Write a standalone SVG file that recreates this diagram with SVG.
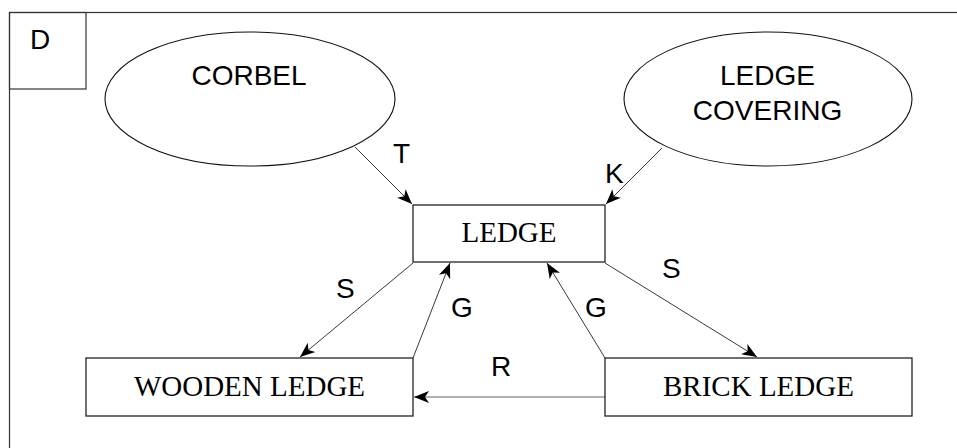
<svg xmlns="http://www.w3.org/2000/svg" width="957" height="448" viewBox="0 0 957 448">
  <style>
    .frame { fill: none; stroke: #333; stroke-width: 1.2; }
    .box { fill: #fff; stroke: #222; stroke-width: 1.3; }
    .oval { fill: #fff; stroke: #111; stroke-width: 1.1; }
    .edge { fill: none; stroke: #222; stroke-width: 0.9; marker-end: url(#arrow); }
    .edge.grey { stroke: #999; stroke-width: 1.4; }
    .sans { font-family: "Liberation Sans", Arial, sans-serif; font-size: 28px; fill: #000; }
    .serif { font-family: "Liberation Serif", "Times New Roman", serif; font-size: 29px; fill: #000; }
    .mid { text-anchor: middle; }
  </style>
  <defs>
    <marker id="arrow" markerUnits="userSpaceOnUse" markerWidth="16" markerHeight="14" viewBox="0 0 16 14" refX="15" refY="7" orient="auto">
      <path d="M0,1 L15,7 L0,13 L4,7 z" fill="#000"/>
    </marker>
  </defs>

  <!-- frame and tag -->
  <g id="frame">
    <rect class="frame" x="9.5" y="12.5" width="960" height="450"/>
    <rect class="frame" x="9.5" y="12.5" width="76.5" height="76.5"/>
    <text class="sans mid" x="40" y="49">D</text>
  </g>

  <!-- connectors -->
  <g id="connectors">
    <line class="edge" x1="355" y1="147" x2="412" y2="204"/>
    <line class="edge" x1="662" y1="148" x2="606" y2="204"/>
    <line class="edge" x1="413" y1="263" x2="300" y2="357"/>
    <line class="edge" x1="413" y1="358" x2="450" y2="263"/>
    <line class="edge" x1="605" y1="358" x2="547" y2="263"/>
    <line class="edge" x1="605" y1="263" x2="757" y2="357"/>
    <line class="edge grey" x1="605" y1="397" x2="414" y2="397"/>
    <text class="sans" x="393" y="163">T</text>
    <text class="sans" x="605" y="183">K</text>
    <text class="sans" x="336" y="298">S</text>
    <text class="sans" x="451" y="317">G</text>
    <text class="sans" x="585" y="317">G</text>
    <text class="sans" x="662" y="278">S</text>
    <text class="sans" x="491" y="376">R</text>
  </g>

  <!-- nodes -->
  <g id="corbel">
    <ellipse class="oval" cx="250" cy="99" rx="145" ry="67"/>
    <text class="sans mid" x="249" y="85">CORBEL</text>
  </g>
  <g id="ledge-covering">
    <ellipse class="oval" cx="768" cy="99" rx="144" ry="67"/>
    <text class="sans mid" x="767.5" y="85">LEDGE</text>
    <text class="sans mid" x="767.5" y="120">COVERING</text>
  </g>
  <g id="ledge">
    <rect class="box" x="413" y="205" width="192" height="57"/>
    <text class="serif mid" x="509" y="242">LEDGE</text>
  </g>
  <g id="wooden-ledge">
    <rect class="box" x="86" y="358" width="327" height="58"/>
    <text class="serif mid" x="249.5" y="396">WOODEN LEDGE</text>
  </g>
  <g id="brick-ledge">
    <rect class="box" x="605" y="358" width="307" height="58"/>
    <text class="serif mid" x="758.5" y="396">BRICK LEDGE</text>
  </g>
</svg>
